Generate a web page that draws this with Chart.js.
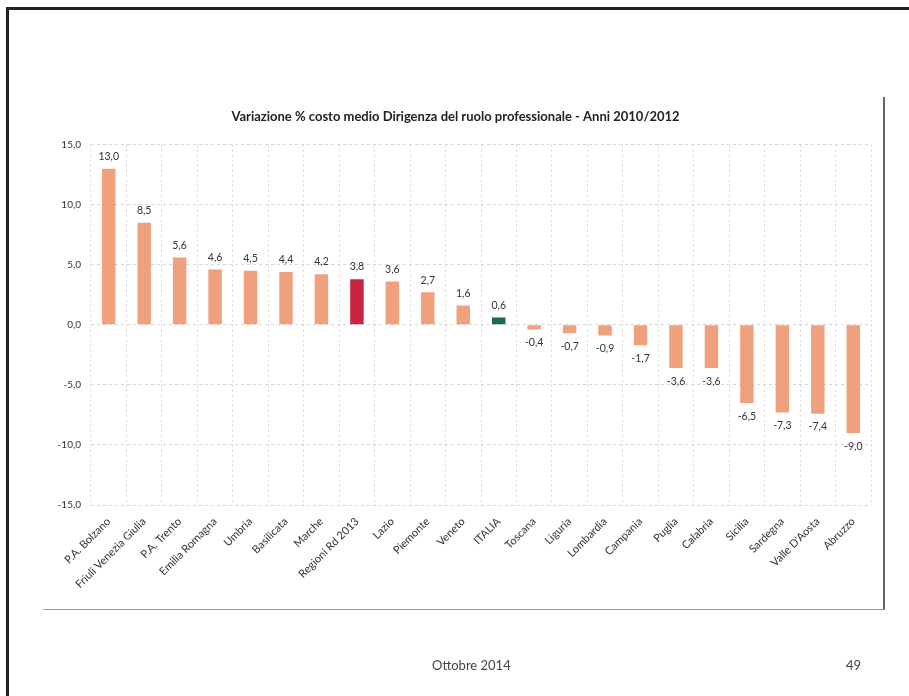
<!DOCTYPE html>
<html>
<head>
<meta charset="utf-8">
<title>Variazione % costo medio Dirigenza del ruolo professionale</title>
<script src="https://cdn.jsdelivr.net/npm/chart.js@4.4.1/dist/chart.umd.min.js"></script>
<style>
    body { margin: 0; width: 909px; height: 696px; overflow: hidden; position: relative; background: #fff; font-family: Lato, "Open Sans", sans-serif; }
    #frame { position: absolute; left: 6px; top: 7px; width: 930px; height: 720px; border-left: 3px solid #222; border-top: 3px solid #222; }
    #box { position: absolute; left: 43px; top: 97px; width: 840px; height: 512px; border-right: 2px solid #666; border-bottom: 1px solid #999; }
    #chart { position: absolute; left: 0; top: 0; }
    .foot { position: absolute; top: 657px; font-size: 13px; color: #444; }
</style>
</head>
<body>
<div id="frame"></div>
<div id="box"></div>
<canvas id="chart" width="909" height="696"></canvas>
<div class="foot" style="left:432px">Ottobre 2014</div>
<div class="foot" style="left:846px">49</div>
<script>
// Data
const categories = [
    'P.A. Bolzano', 'Friuli Venezia Giulia', 'P.A. Trento', 'Emilia Romagna', 'Umbria',
    'Basilicata', 'Marche', 'Regioni Rd 2013', 'Lazio', 'Piemonte', 'Veneto', 'ITALIA',
    'Toscana', 'Liguria', 'Lombardia', 'Campania', 'Puglia', 'Calabria', 'Sicilia',
    'Sardegna', "Valle D'Aosta", 'Abruzzo'
];
const values = [13.0, 8.5, 5.6, 4.6, 4.5, 4.4, 4.2, 3.8, 3.6, 2.7, 1.6, 0.6,
    -0.4, -0.7, -0.9, -1.7, -3.6, -3.6, -6.5, -7.3, -7.4, -9.0];
const yMin = -15;
const yMax = 15;
const yStep = 5;

const titleText = 'Variazione % costo medio Dirigenza del ruolo professionale - Anni 2010/2012';

// Colours: highlighted bars
const baseColor = '#EFA17D';
const highlight = { 'Regioni Rd 2013': '#C8243F', 'ITALIA': '#1E6B4B' };
const barColors = categories.map(c => highlight[c] || baseColor);

const fmt = v => v.toFixed(1).replace('.', ',');

// draws the value over / under each bar
const valueLabels = {
    id: 'valueLabels',
    afterDatasetsDraw(chart) {
        const ctx = chart.ctx;
        const meta = chart.getDatasetMeta(0);
        ctx.save();
        ctx.font = '10.5px Lato';
        ctx.fillStyle = '#333';
        ctx.textAlign = 'center';
        meta.data.forEach((bar, i) => {
            const v = values[i];
            if (v >= 0) {
                ctx.textBaseline = 'bottom';
                ctx.fillText(fmt(v), bar.x, bar.y - 7);
            } else {
                ctx.textBaseline = 'top';
                ctx.fillText(fmt(v), bar.x, bar.y + 8);
            }
        });
        ctx.restore();
    }
};

const gridColor = '#d6d6d6';

new Chart(document.getElementById('chart'), {
    type: 'bar',
    data: {
        labels: categories,
        datasets: [{
            data: values,
            backgroundColor: barColors,
            borderWidth: 0,
            barPercentage: 0.38,
            categoryPercentage: 1
        }]
    },
    options: {
        responsive: false,
        animation: false,
        layout: { padding: { left: 40, right: 38, top: 109, bottom: 90 } },
        plugins: {
            legend: { display: false },
            tooltip: { enabled: false },
            title: {
                display: true,
                text: titleText,
                color: '#222',
                font: { family: 'Lato', size: 13, weight: 'bold' },
                padding: { top: 0, bottom: 20 }
            }
        },
        scales: {
            x: {
                grid: { color: gridColor, drawTicks: false, offset: true },
                border: { display: false, dash: [2, 3] },
                ticks: {
                    autoSkip: false,
                    maxRotation: 45,
                    minRotation: 45,
                    padding: 10,
                    color: '#333',
                    font: { family: 'Lato', size: 11 }
                },
                afterFit: s => { s.height = 101; }
            },
            y: {
                min: yMin,
                max: yMax,
                grid: { color: gridColor, drawTicks: false },
                border: { display: false, dash: [3, 3] },
                ticks: {
                    stepSize: yStep,
                    padding: 10,
                    color: '#333',
                    font: { family: 'Lato', size: 10 },
                    callback: v => fmt(v)
                },
                afterFit: s => { s.width = 51; }
            }
        }
    },
    plugins: [valueLabels]
});
</script>
</body>
</html>
